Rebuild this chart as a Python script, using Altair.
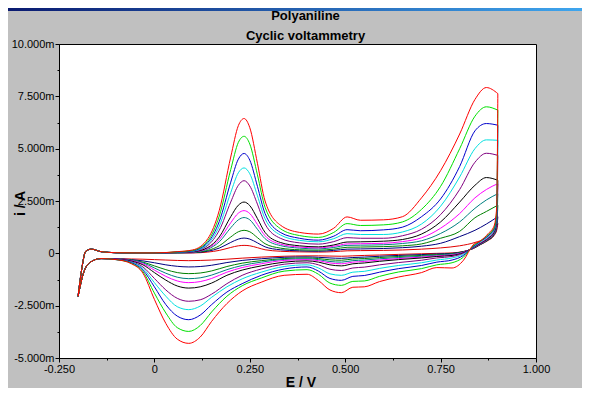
import altair as alt
import pandas as pd

# ---------------- data ----------------
# potentials (V) of the anodic (forward) and cathodic (reverse) sweeps
E_fwd = [-0.200, -0.190, -0.180, -0.165, -0.140, -0.100, -0.050, 0.000, 0.060, 0.100,
         0.140, 0.170, 0.200, 0.220, 0.235, 0.250, 0.270, 0.290, 0.330, 0.380,
         0.430, 0.470, 0.505, 0.540, 0.600, 0.650, 0.700, 0.750, 0.800, 0.840,
         0.870, 0.900]
E_rev = [0.900, 0.897, 0.890, 0.875, 0.855, 0.835, 0.810, 0.780, 0.740, 0.700,
         0.640, 0.590, 0.550, 0.520, 0.490, 0.460, 0.430, 0.400, 0.340, 0.280,
         0.230, 0.190, 0.150, 0.120, 0.090, 0.060, 0.030, 0.000, -0.030, -0.060,
         -0.100, -0.140, -0.170, -0.185, -0.200]

# currents in mA, one list per cycle (curve)
cycles = ["c01", "c02", "c03", "c04", "c05", "c06", "c07", "c08", "c09", "c10", "c11"]
colors = ["#E00000", "#000080", "#008000", "#008080", "#FF00FF", "#000000",
          "#800080", "#00E0E0", "#0000CC", "#00E000", "#FF0000"]

start = [-2.05, -0.70, 0.10, 0.20, 0.08, 0.03, 0.02, 0.02]

i_fwd = {
    "c11": start + [0.08, 0.16, 0.70, 2.05, 4.60, 6.10, 6.44, 6.00, 4.30, 2.50, 1.35, 1.00,
                    0.92, 1.20, 1.74, 1.58, 1.60, 1.75, 2.65, 3.95, 5.70, 7.35, 7.92, 7.63],
    "c10": start + [0.07, 0.14, 0.60, 1.78, 4.00, 5.30, 5.59, 5.22, 3.75, 2.20, 1.18, 0.85,
                    0.76, 1.00, 1.42, 1.33, 1.36, 1.50, 2.10, 3.20, 5.00, 6.55, 7.00, 6.84],
    "c09": start + [0.06, 0.12, 0.52, 1.52, 3.40, 4.50, 4.77, 4.45, 3.20, 1.90, 1.00, 0.72,
                    0.63, 0.82, 1.13, 1.08, 1.12, 1.25, 1.75, 2.60, 4.15, 5.85, 6.20, 6.12],
    "c08": start + [0.05, 0.10, 0.45, 1.30, 2.90, 3.85, 4.08, 3.80, 2.75, 1.65, 0.88, 0.62,
                    0.55, 0.70, 0.94, 0.90, 0.90, 1.02, 1.40, 2.25, 3.65, 5.00, 5.42, 5.40],
    "c07": start + [0.05, 0.09, 0.38, 1.10, 2.45, 3.25, 3.47, 3.22, 2.35, 1.40, 0.72, 0.50,
                    0.44, 0.56, 0.75, 0.72, 0.72, 0.84, 1.15, 1.85, 3.05, 4.35, 4.78, 4.68],
    "c06": start + [0.04, 0.07, 0.28, 0.78, 1.75, 2.30, 2.45, 2.28, 1.66, 1.00, 0.52, 0.36,
                    0.31, 0.40, 0.54, 0.55, 0.58, 0.66, 0.92, 1.50, 2.45, 3.25, 3.62, 3.49],
    "c05": start + [0.04, 0.06, 0.24, 0.66, 1.46, 1.92, 2.04, 1.90, 1.38, 0.84, 0.44, 0.30,
                    0.26, 0.34, 0.45, 0.46, 0.48, 0.56, 0.74, 1.20, 1.90, 2.65, 3.05, 3.33],
    "c04": start + [0.03, 0.05, 0.20, 0.55, 1.22, 1.60, 1.71, 1.60, 1.15, 0.70, 0.37, 0.25,
                    0.21, 0.28, 0.38, 0.39, 0.41, 0.47, 0.60, 0.95, 1.50, 2.15, 2.55, 2.85],
    "c03": start + [0.03, 0.04, 0.14, 0.36, 0.78, 1.03, 1.10, 1.03, 0.75, 0.46, 0.25, 0.17,
                    0.15, 0.20, 0.29, 0.30, 0.32, 0.36, 0.45, 0.72, 1.05, 1.70, 2.00, 2.30],
    "c02": start + [0.02, 0.03, 0.10, 0.25, 0.52, 0.68, 0.73, 0.68, 0.50, 0.31, 0.17, 0.12,
                    0.10, 0.14, 0.20, 0.21, 0.23, 0.27, 0.34, 0.48, 0.80, 1.10, 1.40, 1.75],
    "c01": start + [0.02, 0.02, 0.06, 0.14, 0.28, 0.36, 0.38, 0.36, 0.27, 0.17, 0.10, 0.07,
                    0.06, 0.08, 0.12, 0.13, 0.14, 0.16, 0.20, 0.26, 0.36, 0.52, 0.75, 1.42],
}

i_rev = {
    "c11": [7.63, 2.20, 1.30, 0.95, 0.60, 0.40, -0.33, -0.70, -0.68, -0.92, -1.13, -1.35,
            -1.60, -1.62, -1.88, -1.75, -1.30, -1.00, -1.05, -1.38, -1.80, -2.40, -3.25,
            -4.00, -4.30, -4.10, -3.35, -2.20, -0.95, -0.50, -0.30, -0.25, -0.45, -0.90, -2.05],
    "c10": [6.84, 2.00, 1.20, 0.90, 0.60, 0.35, -0.18, -0.45, -0.55, -0.73, -0.89, -1.10,
            -1.32, -1.34, -1.53, -1.42, -1.00, -0.78, -0.85, -1.18, -1.55, -2.05, -2.80,
            -3.45, -3.73, -3.55, -2.85, -1.90, -0.88, -0.48, -0.30, -0.25, -0.45, -0.90, -2.05],
    "c09": [6.12, 1.90, 1.15, 0.85, 0.58, 0.32, -0.10, -0.32, -0.42, -0.58, -0.73, -0.90,
            -1.06, -1.10, -1.29, -1.20, -0.85, -0.65, -0.75, -1.05, -1.45, -1.85, -2.45,
            -2.95, -3.17, -3.00, -2.45, -1.60, -0.80, -0.45, -0.30, -0.25, -0.45, -0.90, -2.05],
    "c08": [5.40, 1.80, 1.10, 0.80, 0.55, 0.30, -0.05, -0.22, -0.32, -0.45, -0.58, -0.72,
            -0.86, -0.90, -1.05, -0.98, -0.70, -0.55, -0.63, -0.90, -1.22, -1.60, -2.10,
            -2.52, -2.69, -2.55, -2.05, -1.40, -0.72, -0.43, -0.30, -0.25, -0.45, -0.90, -2.05],
    "c07": [4.68, 1.70, 1.05, 0.75, 0.50, 0.28, 0.00, -0.15, -0.22, -0.33, -0.44, -0.55,
            -0.66, -0.70, -0.82, -0.76, -0.55, -0.45, -0.52, -0.75, -1.05, -1.45, -1.95,
            -2.22, -2.29, -2.15, -1.75, -1.20, -0.65, -0.40, -0.28, -0.25, -0.45, -0.90, -2.05],
    "c06": [3.49, 1.55, 1.00, 0.72, 0.48, 0.27, 0.03, -0.10, -0.15, -0.22, -0.30, -0.38,
            -0.46, -0.50, -0.60, -0.55, -0.42, -0.36, -0.42, -0.60, -0.80, -1.05, -1.42,
            -1.60, -1.66, -1.56, -1.28, -0.92, -0.55, -0.37, -0.28, -0.25, -0.45, -0.90, -2.05],
    "c05": [3.33, 1.50, 0.98, 0.70, 0.47, 0.26, 0.05, -0.07, -0.12, -0.18, -0.25, -0.32,
            -0.39, -0.42, -0.50, -0.46, -0.35, -0.30, -0.34, -0.50, -0.68, -0.90, -1.20,
            -1.35, -1.40, -1.32, -1.10, -0.80, -0.50, -0.35, -0.27, -0.25, -0.45, -0.90, -2.05],
    "c04": [2.85, 1.45, 0.95, 0.68, 0.45, 0.25, 0.06, -0.04, -0.09, -0.14, -0.20, -0.26,
            -0.32, -0.35, -0.42, -0.39, -0.30, -0.26, -0.29, -0.42, -0.58, -0.78, -1.04,
            -1.17, -1.21, -1.14, -0.95, -0.70, -0.45, -0.33, -0.27, -0.25, -0.45, -0.90, -2.05],
    "c03": [2.30, 1.35, 0.92, 0.66, 0.44, 0.24, 0.07, -0.02, -0.06, -0.10, -0.15, -0.20,
            -0.25, -0.27, -0.33, -0.31, -0.25, -0.22, -0.25, -0.35, -0.47, -0.63, -0.84,
            -0.94, -0.97, -0.92, -0.78, -0.60, -0.42, -0.32, -0.27, -0.25, -0.45, -0.90, -2.05],
    "c02": [1.75, 1.20, 0.88, 0.64, 0.43, 0.23, 0.08, 0.00, -0.03, -0.06, -0.10, -0.14,
            -0.18, -0.20, -0.24, -0.22, -0.19, -0.17, -0.19, -0.26, -0.34, -0.44, -0.57,
            -0.63, -0.65, -0.62, -0.55, -0.45, -0.36, -0.30, -0.26, -0.25, -0.45, -0.90, -2.05],
    "c01": [1.42, 1.10, 0.85, 0.62, 0.42, 0.22, 0.09, 0.02, 0.00, -0.02, -0.05, -0.08,
            -0.10, -0.12, -0.14, -0.13, -0.12, -0.12, -0.14, -0.18, -0.23, -0.28, -0.32,
            -0.34, -0.35, -0.34, -0.32, -0.30, -0.28, -0.27, -0.26, -0.25, -0.45, -0.90, -2.05],
}

x_ticks = [-0.25, -0.125, 0.0, 0.125, 0.25, 0.375, 0.5, 0.625, 0.75, 0.875, 1.0]
y_ticks = [-5.0, -3.75, -2.5, -1.25, 0.0, 1.25, 2.5, 3.75, 5.0, 6.25, 7.5, 8.75, 10.0]

# ---------------- table ----------------
rows = []
for c in cycles:
    for e, v in zip(E_fwd, i_fwd[c]):
        rows.append({"cycle": c, "branch": "anodic", "E": e, "i": v})
    for e, v in zip(E_rev, i_rev[c]):
        rows.append({"cycle": c, "branch": "cathodic", "E": e, "i": v})
df = pd.DataFrame(rows)

FONT = "Liberation Sans"
x_major = "abs(datum.value*4 - round(datum.value*4)) < 0.001"
y_major = "abs(datum.value/2.5 - round(datum.value/2.5)) < 0.001"
x_label = (f"({x_major}) ? (abs(datum.value) < 0.0001 ? '0' : "
           "(datum.value < 0 ? '-' : '') + format(abs(datum.value), '.3f')) : ''")
y_label = (f"({y_major}) ? (abs(datum.value) < 0.0001 ? '0' : "
           "(datum.value < 0 ? '-' : '') + format(abs(datum.value), '.3f') + 'm') : ''")

W, H = 477, 314

lines = alt.Chart(df).mark_line(strokeWidth=1, interpolate="monotone", clip=True).encode(
    x=alt.X("E:Q", scale=alt.Scale(domain=[-0.25, 1.0], nice=False, zero=False),
            axis=alt.Axis(values=x_ticks, labelExpr=x_label,
                          tickSize={"condition": {"test": x_major, "value": 4}, "value": 2},
                          title="E / V", titleFont=FONT, titleFontSize=14, titleFontWeight="bold",
                          titleColor="black", titleX=W / 2 + 3, titleY=24, titleBaseline="middle",
                          labelFont=FONT, labelFontSize=11, labelColor="black",
                          labelPadding=1, labelOverlap=False, labelFlush=False,
                          tickColor="black", domainColor="black", grid=False)),
    y=alt.Y("i:Q", scale=alt.Scale(domain=[-5, 10], nice=False, zero=False),
            axis=alt.Axis(values=y_ticks, labelExpr=y_label,
                          tickSize={"condition": {"test": y_major, "value": 4}, "value": 2},
                          title="i / A", titleFont=FONT, titleFontSize=14, titleFontWeight="bold",
                          titleColor="black", titleX=-39, titleY=H / 2 + 2, titleBaseline="middle",
                          titleAlign="center", titleAngle=270,
                          labelFont=FONT, labelFontSize=11, labelColor="black",
                          labelPadding=1, labelOverlap=False, labelFlush=False,
                          tickColor="black", domainColor="black", grid=False)),
    color=alt.Color("cycle:N", scale=alt.Scale(domain=cycles, range=colors), legend=None),
    detail="branch:N",
)

header = alt.Chart(pd.DataFrame({"k": [0]})).mark_rect(
    color={"gradient": "linear", "x1": 0, "x2": 1, "y1": 0, "y2": 0,
           "stops": [{"offset": 0, "color": "#0a1a70"}, {"offset": 1, "color": "#3fa6ee"}]}
).encode(x=alt.value(-51), x2=alt.value(W + 46), y=alt.value(-36), y2=alt.value(-33))

chart = alt.layer(header, lines).properties(
    width=W, height=H,
    title=alt.TitleParams(["Polyaniline", "Cyclic voltammetry"], font=FONT, fontSize=13,
                          fontWeight="bold", color="black", anchor="middle", offset=0,
                          lineHeight=20, dx=8, dy=35),
    autosize=alt.AutoSizeParams(type="none"),
    padding={"left": 51, "top": 36, "right": 46, "bottom": 30},
    background="#C0C0C0",
).configure_view(stroke="black", strokeWidth=1, fill="white")

chart.save("out.html", embed_options={"renderer": "svg", "actions": False})
